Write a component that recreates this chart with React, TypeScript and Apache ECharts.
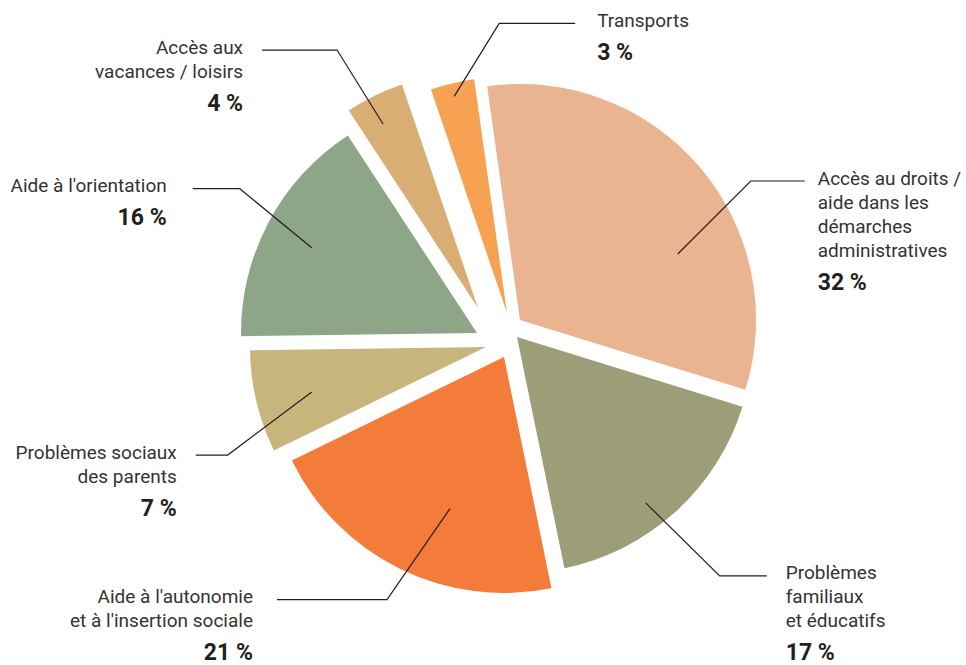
import React, { useEffect, useRef } from "react";
import * as echarts from "echarts";

// ---- Data ----
const categories = [
  "Accès au droits /\naide dans les\ndémarches\nadministratives",
  "Problèmes\nfamiliaux\net éducatifs",
  "Aide à l'autonomie\net à l'insertion sociale",
  "Problèmes sociaux\ndes parents",
  "Aide à l'orientation",
  "Accès aux\nvacances / loisirs",
  "Transports",
];
const values = [32, 17, 21, 7, 16, 4, 3];

// ---- Styles / layout ----
const colors = ["#E9B48F", "#9D9D78", "#F37C3A", "#C8B57C", "#8DA688", "#D9AE74", "#F7A252"];
const CENTER = [500, 332];
const RADIUS = 236;
const START_ANGLE = 98;
// per-slice explode offset [dx, dy] (px)
const explode = [
  [20, -12],
  [17, 5],
  [4, 25],
  [-14, 15],
  [-23, 1],
  [-22, -24],
  [7, -19],
];
// leader line: [angle offset from slice mid (deg), start radius, bend dx, bend dy, horizontal length, text gap]
const leaders = [
  [-17.7, 171, 73, -73, 54, 13],
  [-4.4, 210, 74, 73, 47, 19],
  [6.6, 161, -63, 91, -110, 24],
  [1.1, 180, -84, 63, -32, 19],
  [0.7, 186, -72, -59, -47, 26],
  [1.3, 207, -46, -74, -75, 19],
  [0.3, 223, 45, -73, 76, 22],
];

export default function App() {
  const ref = useRef<HTMLDivElement>(null);
  useEffect(() => {
    if (!ref.current) return;
    const chart = echarts.init(ref.current, undefined, { renderer: "svg" });
    const total = values.reduce((a, b) => a + b, 0);
    const mids: number[] = [];
    let cum = 0;
    values.forEach((v) => {
      mids.push(START_ANGLE - (360 * (cum + v / 2)) / total);
      cum += v;
    });

    // one series per slice so that each slice has its own offset
    const sliceSeries = values.map((_, i) => ({
      type: "pie",
      silent: true,
      z: 2,
      center: [CENTER[0] + explode[i][0], CENTER[1] + explode[i][1]],
      radius: [0, RADIUS],
      startAngle: START_ANGLE,
      clockwise: true,
      avoidLabelOverlap: false,
      emphasis: { disabled: true },
      label: { show: false },
      labelLine: { show: false },
      data: values.map((v, j) => ({
        name: categories[j],
        value: v,
        itemStyle: { color: j === i ? colors[j] : "rgba(0,0,0,0)" },
      })),
    }));

    // transparent series carrying the labels and leader lines, drawn above the slices
    const labelSeries = {
      type: "pie",
      silent: true,
      z: 5,
      center: CENTER,
      radius: [0, RADIUS],
      startAngle: START_ANGLE,
      clockwise: true,
      avoidLabelOverlap: false,
      emphasis: { disabled: true },
      itemStyle: { color: "rgba(0,0,0,0)" },
      labelLine: { show: true, smooth: false, lineStyle: { color: "#231F20", width: 1.2 } },
      labelLayout: (params: any) => {
        const k = params.dataIndex;
        const L = leaders[k];
        const ax = CENTER[0] + explode[k][0];
        const ay = CENTER[1] + explode[k][1];
        const a = ((mids[k] + L[0]) * Math.PI) / 180;
        const sx = ax + L[1] * Math.cos(a);
        const sy = ay - L[1] * Math.sin(a);
        const bx = sx + L[2];
        const by = sy + L[3];
        const ex = bx + L[4];
        const dir = L[4] > 0 ? 1 : -1;
        return {
          x: ex + dir * L[5],
          y: by - 15,
          align: dir > 0 ? "left" : "right",
          verticalAlign: "top",
          labelLinePoints: [
            [sx, sy],
            [bx, by],
            [ex, by],
          ],
        };
      },
      data: values.map((v, j) => {
        const suffix = leaders[j][4] > 0 ? "L" : "R";
        return {
          name: categories[j],
          value: v,
          label: {
            show: true,
            position: "outside",
            formatter: () =>
              categories[j]
                .split("\n")
                .map((l) => `{n${suffix}|${l}}`)
                .join("\n") + `\n{p${suffix}|${v} %}`,
            rich: {
              nL: { fontFamily: "Roboto", fontSize: 19, lineHeight: 24, color: "#333333", align: "left" },
              nR: { fontFamily: "Roboto", fontSize: 19, lineHeight: 24, color: "#333333", align: "right" },
              pL: { fontFamily: "Roboto", fontSize: 23, fontWeight: "bold", lineHeight: 40, color: "#231F20", align: "left" },
              pR: { fontFamily: "Roboto", fontSize: 23, fontWeight: "bold", lineHeight: 40, color: "#231F20", align: "right" },
            },
          },
        };
      }),
    };

    chart.setOption({
      animation: false,
      backgroundColor: "#ffffff",
      series: [...sliceSeries, labelSeries],
    } as any);
    return () => chart.dispose();
  }, []);
  return (
    <div
      ref={ref}
      style={{ position: "fixed", left: 0, top: 0, width: 966, height: 665 }}
    />
  );
}
